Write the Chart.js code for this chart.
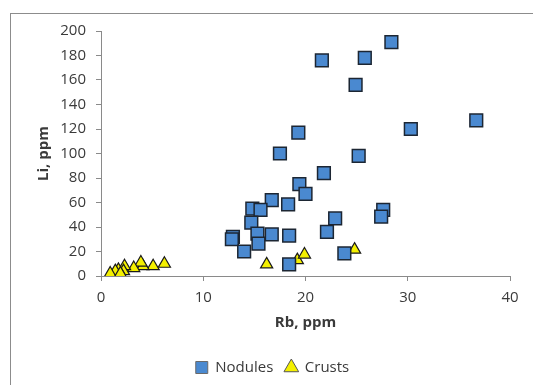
<!DOCTYPE html>
<html>
<head>
<meta charset="utf-8">
<script src="https://cdn.jsdelivr.net/npm/chart.js@4"></script>
<style>
  html, body { margin: 0; padding: 0; background: #fff; overflow: hidden; }
  #wrap { position: relative; width: 533px; height: 385px; }
  #frame { position: absolute; left: 10px; top: 13px; width: 540px; height: 400px;
           border: 1.5px solid #8c8c8c; box-sizing: border-box; }
  canvas { position: absolute; left: 0; top: 0; }
</style>
</head>
<body>
<div id="wrap">
  <div id="frame"></div>
  <canvas id="chart" width="533" height="385"></canvas>
</div>
<script>
// Nodules: Rb (x) vs Li (y), ppm
const nodulesRb = [28.4, 21.6, 25.8, 24.9, 36.7, 30.3, 19.3, 17.5, 25.2, 21.8,
                   19.4, 20.0, 16.7, 18.3, 14.8, 15.6, 14.7, 22.9, 27.6, 27.4,
                   15.3, 16.7, 18.4, 22.1, 12.9, 12.8, 15.4, 14.0, 23.8, 18.4];
const nodulesLi = [191, 176, 178, 156, 127, 120, 117, 100, 98, 84,
                   75, 67, 62, 58.5, 55, 54, 43.5, 47, 54, 48.5,
                   34.5, 34, 33, 36, 32, 30, 26.5, 20, 18.5, 9.5];

// Crusts
const crustsRb = [16.2, 19.2, 19.9, 24.8, 6.2, 5.1, 4.1, 3.9, 3.2, 2.3,
                  2.2, 1.7, 1.4, 0.9, 1.9];
const crustsLi = [9.5, 13, 17.5, 21.5, 10, 8, 8, 11, 6.5, 8,
                  4, 5, 4, 2, 2];

const xTicks = [0, 10, 20, 30, 40];
const yTicks = [0, 20, 40, 60, 80, 100, 120, 140, 160, 180, 200];

const toPoints = (xs, ys) => xs.map((x, i) => ({ x: x, y: ys[i] }));

const fontFamily = '"Open Sans", "Liberation Sans", sans-serif';
const textColor = '#3a3a3a';

new Chart(document.getElementById('chart'), {
  type: 'scatter',
  data: {
    datasets: [{
      label: 'Nodules',
      data: toPoints(nodulesRb, nodulesLi),
      pointStyle: 'rect',
      pointRadius: 9,
      pointHoverRadius: 9,
      backgroundColor: '#4a89d0',
      borderColor: '#1c2633',
      borderWidth: 1.5
    }, {
      label: 'Crusts',
      data: toPoints(crustsRb, crustsLi),
      pointStyle: 'triangle',
      pointRadius: 7,
      pointHoverRadius: 7,
      backgroundColor: '#f4f000',
      borderColor: '#1a1a1a',
      borderWidth: 1.2
    }]
  },
  options: {
    responsive: false,
    animation: false,
    layout: { padding: { left: 35, top: 31, right: 23, bottom: 0 } },
    plugins: {
      tooltip: { enabled: false },
      legend: {
        position: 'bottom',
        labels: {
          usePointStyle: true,
          boxWidth: 12,
          boxHeight: 12,
          padding: 12,
          color: textColor,
          font: { family: fontFamily, size: 15 },
          generateLabels: (chart) => chart.data.datasets.map((ds, i) => ({
            text: ds.label,
            pointStyle: ds.pointStyle,
            fillStyle: ds.backgroundColor,
            strokeStyle: i === 0 ? '#6a6a6a' : '#555',
            lineWidth: 1,
            datasetIndex: i,
            fontColor: textColor
          }))
        }
      }
    },
    scales: {
      x: {
        type: 'linear',
        min: 0,
        max: 40,
        afterBuildTicks: (axis) => { axis.ticks = xTicks.map(v => ({ value: v })); },
        afterFit: (axis) => { axis.height = 72; },
        border: { color: '#8a8a8a', width: 1 },
        grid: { drawOnChartArea: false, tickLength: 5, color: '#8a8a8a' },
        ticks: { color: textColor, padding: 8, font: { family: fontFamily, size: 15 } },
        title: {
          display: true,
          text: 'Rb, ppm',
          color: textColor,
          padding: { top: 0, bottom: 16 },
          font: { family: fontFamily, size: 15, weight: 'bold' }
        }
      },
      y: {
        type: 'linear',
        min: 0,
        max: 200,
        afterBuildTicks: (axis) => { axis.ticks = yTicks.map(v => ({ value: v })); },
        afterFit: (axis) => { axis.width = 66; },
        border: { color: '#8a8a8a', width: 1 },
        grid: { drawOnChartArea: false, tickLength: 5, color: '#8a8a8a' },
        ticks: { color: textColor, padding: 10, font: { family: fontFamily, size: 15 } },
        title: {
          display: true,
          text: 'Li, ppm',
          color: textColor,
          padding: { top: 0, bottom: 0 },
          font: { family: fontFamily, size: 15, weight: 'bold' }
        }
      }
    }
  }
});
</script>
</body>
</html>
